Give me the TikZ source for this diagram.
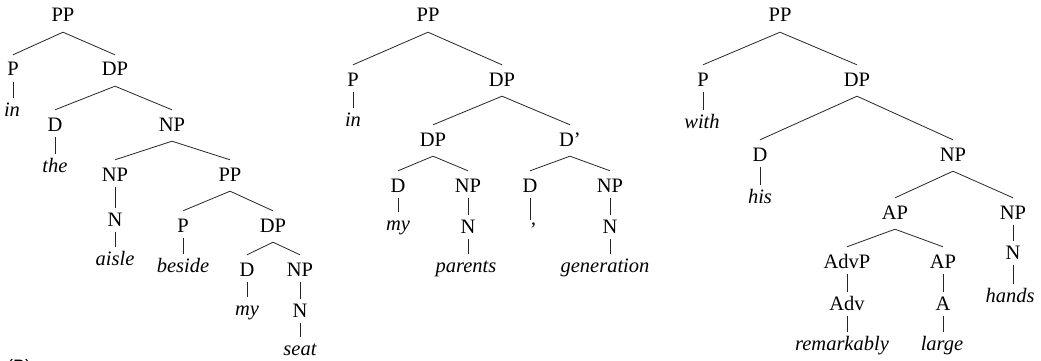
\documentclass[tikz,border=0pt]{standalone}
\usepackage{fontspec}
\setmainfont{Liberation Serif}
\newfontfamily\serf{Liberation Serif}
\newfontfamily\labsans{Liberation Sans}
\begin{document}
\begin{tikzpicture}[x=1pt,y=-1pt,
  lab/.style={font=\serf\fontsize{20.5}{24}\selectfont, inner xsep=1pt, inner ysep=2pt,
    text height=16pt, text depth=4pt, anchor=base},
  wd/.style={lab, font=\serf\fontsize{20.5}{24}\selectfont\itshape},
  br/.style={line width=0.8pt, draw=black!85}]
\useasboundingbox (0,0) rectangle (1041,361);
% ---------- Tree 1 ----------
\node[lab] (a1) at (63,22) {PP};
\node[lab] (a2) at (13,76) {P};
\node[wd]  (a3) at (12,116) {in};
\node[lab] (a4) at (115,76) {DP};
\node[lab] (a5) at (55,131) {D};
\node[wd]  (a6) at (55,172) {the};
\node[lab] (a7) at (172,131) {NP};
\node[lab] (a8) at (115,181) {NP};
\node[lab] (a9) at (115,226) {N};
\node[wd]  (a10) at (115,265) {aisle};
\node[lab] (a11) at (230,181) {PP};
\node[lab] (a12) at (183,232) {P};
\node[wd]  (a13) at (183,272) {beside};
\node[lab] (a14) at (273,232) {DP};
\node[lab] (a15) at (247,276) {D};
\node[wd]  (a16) at (247,315) {my};
\node[lab] (a17) at (300,276) {NP};
\node[lab] (a18) at (300,317) {N};
\node[wd]  (a19) at (300,355) {seat};
\foreach \p/\c in {a1/a2,a1/a4,a4/a5,a4/a7,a7/a8,a7/a11,a11/a12,a11/a14,a14/a15,a14/a17}
  \draw[br] ([yshift=-4pt]\p.south) -- ([yshift=3pt]\c.north);
\foreach \p/\c in {a2/a3,a5/a6,a8/a9,a9/a10,a12/a13,a15/a16,a17/a18,a18/a19}
  \draw[br] (\p.south) -- (\p.south |- \c.north);
% ---------- Tree 2 ----------
\node[lab] (b1) at (428,22) {PP};
\node[lab] (b2) at (353,86) {P};
\node[wd]  (b3) at (353,126) {in};
\node[lab] (b4) at (502,86) {DP};
\node[lab] (b5) at (433,146) {DP};
\node[lab] (b6) at (570,146) {D’};
\node[lab] (b7) at (398,192) {D};
\node[wd]  (b8) at (398,230) {my};
\node[lab] (b9) at (468,192) {NP};
\node[lab] (b10) at (468,233) {N};
\node[wd]  (b11) at (466,272) {parents};
\node[lab] (b12) at (530,192) {D};
\node[wd]  (b13) at (532,236) {’};
\node[lab] (b14) at (610,192) {NP};
\node[lab] (b15) at (610,233) {N};
\node[wd]  (b16) at (605,272) {generation};
\foreach \p/\c in {b1/b2,b1/b4,b4/b5,b4/b6,b5/b7,b5/b9,b6/b12,b6/b14}
  \draw[br] ([yshift=-4pt]\p.south) -- ([yshift=3pt]\c.north);
\foreach \p/\c in {b2/b3,b7/b8,b9/b10,b10/b11,b14/b15,b15/b16}
  \draw[br] (\p.south) -- (\p.south |- \c.north);
\draw[br] (b12.south) -- ([yshift=-2pt]b12.south |- b13.north);
% ---------- Tree 3 ----------
\node[lab] (c1) at (780,22) {PP};
\node[lab] (c2) at (703,86) {P};
\node[wd]  (c3) at (702,128) {with};
\node[lab] (c4) at (857,86) {DP};
\node[lab] (c5) at (760,161) {D};
\node[wd]  (c6) at (760,203) {his};
\node[lab] (c7) at (953,161) {NP};
\node[lab] (c8) at (895,219) {AP};
\node[lab] (c9) at (1013,219) {NP};
\node[lab] (c10) at (1013,259) {N};
\node[wd]  (c11) at (1010,302) {hands};
\node[lab] (c12) at (847,268) {AdvP};
\node[lab] (c13) at (847,310) {Adv};
\node[wd]  (c14) at (842,350) {remarkably};
\node[lab] (c15) at (943,268) {AP};
\node[lab] (c16) at (943,310) {A};
\node[wd]  (c17) at (942,350) {large};
\foreach \p/\c in {c1/c2,c1/c4,c4/c5,c4/c7,c7/c8,c7/c9,c8/c12,c8/c15}
  \draw[br] ([yshift=-4pt]\p.south) -- ([yshift=3pt]\c.north);
\foreach \p/\c in {c2/c3,c5/c6,c9/c10,c10/c11,c12/c13,c13/c14,c15/c16,c16/c17}
  \draw[br] (\p.south) -- (\p.south |- \c.north);
% ---------- cut-off panel label ----------
\node[font=\labsans\fontsize{18}{20}\selectfont, anchor=base west, inner sep=0pt] (lbl) at (7,372) {(B)};
\end{tikzpicture}
\end{document}
